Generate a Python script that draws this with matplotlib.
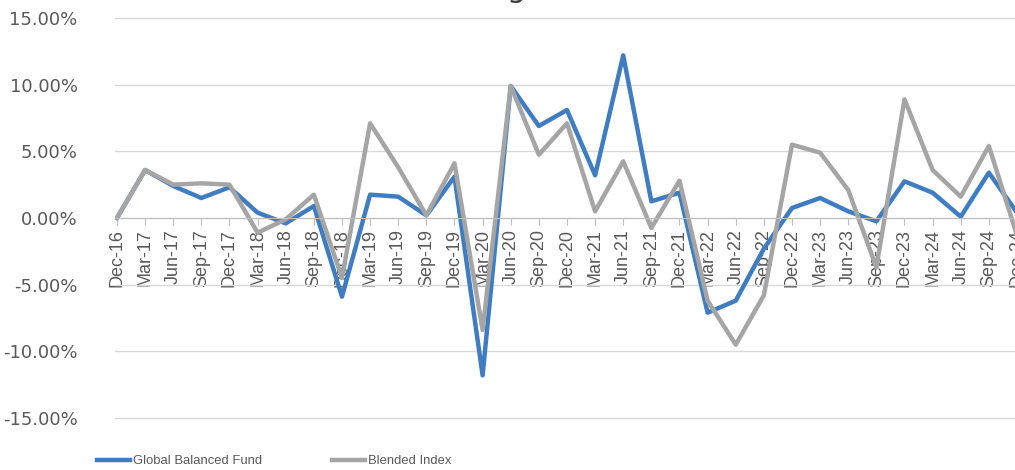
import matplotlib
matplotlib.use("Agg")
from matplotlib import pyplot as plt
from matplotlib.ticker import FuncFormatter, MultipleLocator
import numpy as np

# quarterly returns (%)
quarters = ["Dec-16", "Mar-17", "Jun-17", "Sep-17", "Dec-17", "Mar-18", "Jun-18", "Sep-18",
            "Dec-18", "Mar-19", "Jun-19", "Sep-19", "Dec-19", "Mar-20", "Jun-20", "Sep-20",
            "Dec-20", "Mar-21", "Jun-21", "Sep-21", "Dec-21", "Mar-22", "Jun-22", "Sep-22",
            "Dec-22", "Mar-23", "Jun-23", "Sep-23", "Dec-23", "Mar-24", "Jun-24", "Sep-24",
            "Dec-24"]
fund = [0.0, 3.6, 2.4, 1.5, 2.3, 0.4, -0.4, 0.9, -5.9, 1.75, 1.6, 0.2, 3.1, -11.8, 9.9, 6.9,
        8.1, 3.2, 12.2, 1.25, 1.9, -7.1, -6.2, -2.3, 0.75, 1.5, 0.5, -0.25, 2.75, 1.9, 0.1, 3.4,
        0.4]
blended = [0.0, 3.6, 2.5, 2.6, 2.5, -1.1, -0.1, 1.75, -4.5, 7.1, 3.8, 0.2, 4.1, -8.4, 9.9, 4.75,
           7.1, 0.5, 4.25, -0.75, 2.8, -6.2, -9.5, -5.8, 5.5, 4.9, 2.1, -3.7, 8.9, 3.6, 1.6, 5.4,
           -1.3]

font = ["Liberation Sans", "DejaVu Sans"]
txt_col = "#595959"

fig = plt.figure(figsize=(10.15, 4.70), dpi=100)
# axes padded by 2 px top and bottom so the outer gridlines are not clipped
ax = fig.add_axes([115 / 1015, 1 - 420 / 470, 903 / 1015, 404 / 470])

x = np.arange(len(quarters))
ax.plot(x, fund, color="#3F7DC0", lw=3.2, label="Global Balanced Fund")
ax.plot(x, blended, color="#A5A5A5", lw=3.2, label="Blended Index")

ax.set_ylim(-15.15, 15.15)
ax.set_xlim(-0.07, 32.036)
ax.yaxis.set_major_locator(MultipleLocator(5))
ax.yaxis.set_major_formatter(FuncFormatter(lambda v, p: f"{v:.2f}%"))
ax.grid(axis="y", color="#D9D9D9", lw=1.0)
ax.set_axisbelow(True)

for s in ["top", "right", "left"]:
    ax.spines[s].set_visible(False)
ax.spines["bottom"].set_position(("data", 0))
ax.spines["bottom"].set_color("#BFBFBF")

ax.set_xticks(x)
ax.set_xticklabels(quarters, rotation=90, family=font, fontsize=13, color=txt_col)
ax.tick_params(axis="x", direction="out", length=5, color="#BFBFBF", pad=3)
ax.tick_params(axis="y", length=0, pad=27, labelsize=13, labelcolor=txt_col)

leg = fig.legend(loc="center left", bbox_to_anchor=(97 / 1015, 1 - 461 / 470), ncol=2,
                 frameon=False, borderpad=0, borderaxespad=0, handlelength=2.5,
                 handletextpad=0.23, columnspacing=5.4, prop={"family": font, "size": 9.4})
for t in leg.get_texts():
    t.set_color(txt_col)

# cut-off chart title (only the descender remains visible)
fig.text(516 / 1015, 1 + 3 / 470, "g", ha="center", va="baseline", fontsize=22, color="#404040")

fig.savefig("out.png", dpi=100)
